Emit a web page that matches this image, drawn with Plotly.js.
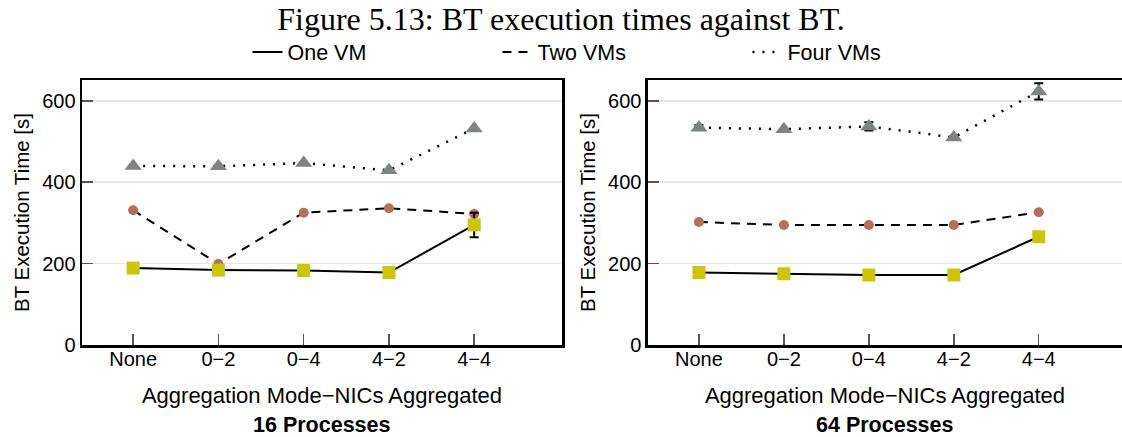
<!DOCTYPE html>
<html>
<head>
<meta charset="utf-8">
<script src="https://cdn.plot.ly/plotly-3.0.1.min.js"></script>
<style>html,body{margin:0;padding:0;background:#fff;overflow:hidden}#chart{width:1122px;height:437px}</style>
</head>
<body>
<div id="chart"></div>
<script>
// Data
const categories = ['None', '0\u22122', '0\u22124', '4\u22122', '4\u22124'];
const seriesNames = ['One VM', 'Two VMs', 'Four VMs'];
const panelTitles = ['16 Processes', '64 Processes'];

const oneVM16 = [189, 184, 183, 178, 295];
const twoVM16 = [331, 199, 325, 336, 322];
const fourVM16 = [440, 439, 447, 429, 532];
const oneVM16Err = [0, 0, 0, 0, 30];
const twoVM16Err = [0, 0, 0, 0, 0];
const fourVM16Err = [0, 0, 0, 0, 0];

const oneVM64 = [178, 175, 172, 172, 266];
const twoVM64 = [302, 295, 295, 295, 326];
const fourVM64 = [534, 530, 537, 510, 623];
const oneVM64Err = [0, 0, 0, 0, 0];
const twoVM64Err = [0, 0, 0, 0, 0];
const fourVM64Err = [6, 0, 10, 0, 20];

const yTicks = [0, 200, 400, 600];

// Styles
const dashes = ['solid', '9px,7px', '2px,8px'];
const markerSymbols = ['square', 'circle', 'triangle-up'];
const markerColors = ['#cdc50c', '#b5705b', '#7d8481'];
const markerSizes = [13, 10, 15];
const FONT = 'Liberation Sans, Arial, sans-serif';

const panels = [
  {vals: [oneVM16, twoVM16, fourVM16], errs: [oneVM16Err, twoVM16Err, fourVM16Err], xa: 'x', ya: 'y'},
  {vals: [oneVM64, twoVM64, fourVM64], errs: [oneVM64Err, twoVM64Err, fourVM64Err], xa: 'x2', ya: 'y2'}
];

const traces = [];
panels.forEach((p, pi) => {
  for (let s = 0; s < 3; s++) {
    traces.push({
      type: 'scatter', mode: 'lines', x: categories, y: p.vals[s],
      xaxis: p.xa, yaxis: p.ya, name: seriesNames[s],
      showlegend: pi === 0, legendrank: s + 1,
      line: {color: '#000', width: s === 2 ? 2.5 : 2, dash: dashes[s]},
      hoverinfo: 'skip'
    });
  }
  [2, 1, 0].forEach(s => {
    traces.push({
      type: 'scatter', mode: 'markers', x: categories, y: p.vals[s],
      xaxis: p.xa, yaxis: p.ya, name: seriesNames[s], showlegend: false,
      marker: {symbol: markerSymbols[s], color: markerColors[s], size: markerSizes[s], line: {width: 0}},
      error_y: {type: 'data', array: p.errs[s], visible: true, color: '#000', thickness: 2, width: 4.5}
    });
  });
});

const xBase = {
  type: 'category', range: [-0.6, 5.03], showline: true, mirror: true, linecolor: '#000', linewidth: 2.5,
  ticks: 'inside', ticklen: 11, tickwidth: 1.5, tickcolor: '#555', showgrid: false, zeroline: false,
  tickfont: {family: FONT, size: 20, color: '#000'}, ticklabelstandoff: -6,
  title: {text: 'Aggregation Mode\u2212NICs Aggregated', font: {family: FONT, size: 22, color: '#000'}, standoff: 19}
};
const yBase = {
  range: [0, 651], tickvals: yTicks, showline: true, mirror: true, linecolor: '#000', linewidth: 2.5,
  ticks: 'inside', ticklen: 11, tickwidth: 1.5, tickcolor: '#555', showgrid: true, gridcolor: '#e6e6e6', gridwidth: 1.5,
  zeroline: false, tickfont: {family: FONT, size: 20, color: '#000'},
  title: {text: 'BT Execution Time [s]', font: {family: FONT, size: 20.5, color: '#000'}, standoff: 7}
};

const layout = {
  width: 1122, height: 437,
  margin: {l: 0, r: 0, t: 80, b: 92},
  paper_bgcolor: '#fff', plot_bgcolor: '#fff',
  title: {text: 'Figure 5.13: BT execution times against BT.', font: {family: 'Liberation Serif, Times New Roman, serif', size: 32, color: '#000'},
          x: 0.5, xanchor: 'center', y: 1 - 19 / 437, yanchor: 'middle', xref: 'paper'},
  xaxis: Object.assign({}, xBase, {domain: [0.0731, 0.5009], anchor: 'y'}),
  yaxis: Object.assign({}, yBase, {domain: [0, 1], anchor: 'x'}),
  xaxis2: Object.assign({}, xBase, {domain: [0.5775, 1], anchor: 'y2', range: [-0.6, 4.98]}),
  yaxis2: Object.assign({}, yBase, {domain: [0, 1], anchor: 'x2'}),
  legend: {orientation: 'h', x: 0.5548, xanchor: 'center', y: 1.106, yanchor: 'middle',
           font: {family: FONT, size: 21.5, color: '#000'}, entrywidth: 205, entrywidthmode: 'pixels',
           bgcolor: 'rgba(0,0,0,0)'},
  annotations: panelTitles.map((t, i) => ({
    text: '<b>' + t + '</b>', xref: i === 0 ? 'x domain' : 'x2 domain', yref: 'paper',
    x: 0.5, y: -0.302, xanchor: 'center', yanchor: 'middle', showarrow: false,
    font: {family: FONT, size: 21.5, color: '#000'}, borderpad: 0
  })),
  showlegend: true
};

Plotly.newPlot('chart', traces, layout, {displayModeBar: false, staticPlot: true});
</script>
</body>
</html>
